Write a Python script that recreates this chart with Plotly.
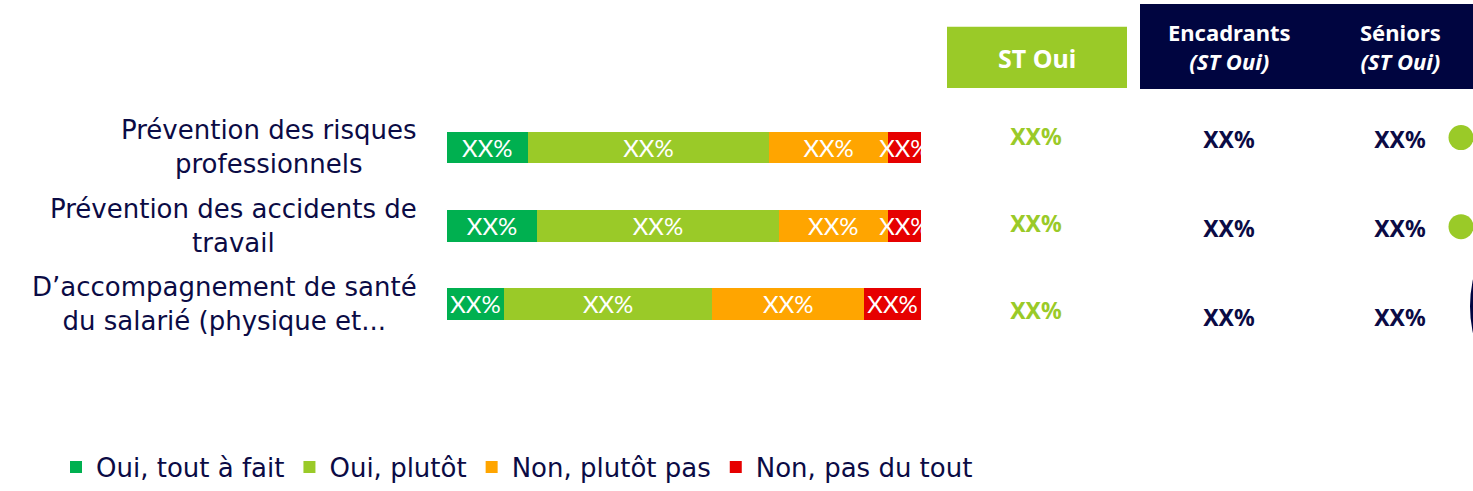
import plotly.graph_objects as go

# ---------------- data ----------------
categories = [
    "Prévention des risques<br>professionnels",
    "Prévention des accidents de<br>travail",
    "D’accompagnement de santé<br>du salarié (physique et...",
]
series_names = ["Oui, tout à fait", "Oui, plutôt", "Non, plutôt pas", "Non, pas du tout"]
oui_tout_a_fait = [17, 19, 12]
oui_plutot = [51, 51, 44]
non_plutot_pas = [25, 23, 32]
non_pas_du_tout = [7, 7, 12]
bar_labels = ["XX%", "XX%", "XX%"]

col_headers = ["ST Oui", "Encadrants<br><i>(ST Oui)</i>", "Séniors<br><i>(ST Oui)</i>"]
st_oui = ["XX%", "XX%", "XX%"]
encadrants = ["XX%", "XX%", "XX%"]
seniors = ["XX%", "XX%", "XX%"]
indicators = ["up", "up", "big"]

# ---------------- style ----------------
W, H = 1473, 491
colors = ["#00B050", "#9ACA28", "#FFA500", "#E60000"]
NAVY = "#0B0B45"
BOX_NAVY = "#000540"
FONT = "DejaVu Sans"
BOLD_FONT = "Noto Sans"
ROW_PX = 90  # pixel height of one table row

def px_x(p):
    return p / W

def px_y(p):
    return 1 - p / H

series_values = [oui_tout_a_fait, oui_plutot, non_plutot_pas, non_pas_du_tout]

fig = go.Figure()
for name, vals, col in zip(series_names, series_values, colors):
    fig.add_trace(go.Bar(
        y=categories, x=vals, name=name, orientation="h",
        marker=dict(color=col, line=dict(width=0)),
        text=bar_labels, textposition="inside", insidetextanchor="middle",
        textfont=dict(color="white", size=24, family="Lato"),
        cliponaxis=True, width=0.405, hoverinfo="skip",
        xaxis="x", yaxis="y",
    ))

# table columns (x positions in the table axis are styling)
col_x = [1036, 1229, 1400]
col_vals = [st_oui, encadrants, seniors]
col_colors = [colors[1], NAVY, NAVY]
col_yaxes = ["y3", "y4", "y4"]
rows = list(range(len(categories)))
for cx, vals, cc, ya in zip(col_x, col_vals, col_colors, col_yaxes):
    fig.add_trace(go.Scatter(
        x=[cx] * len(vals), y=rows, text=vals, mode="text",
        textfont=dict(size=23, color=cc, family=BOLD_FONT, weight="bold"),
        showlegend=False, cliponaxis=False, hoverinfo="skip",
        xaxis="x2", yaxis=ya,
    ))

# significance indicators
dot_rows = [i for i, s in enumerate(indicators) if s == "up"]
big_rows = [i for i, s in enumerate(indicators) if s == "big"]
fig.add_trace(go.Scatter(
    x=[1461] * len(dot_rows), y=dot_rows, mode="markers",
    marker=dict(size=25, color=colors[1], line=dict(width=0)),
    showlegend=False, cliponaxis=False, hoverinfo="skip",
    xaxis="x2", yaxis="y2",
))

# category labels (centered lines, right-anchored block)
annotations = []
for c in categories:
    annotations.append(dict(
        x=px_x(419), xref="paper", y=c, yref="y", xanchor="right", yanchor="middle",
        text=c, align="center", showarrow=False,
        font=dict(size=26, color=NAVY, family=FONT),
    ))

# header boxes
shapes = [
    dict(type="rect", xref="paper", yref="paper", x0=px_x(947), x1=px_x(1127),
         y0=px_y(89), y1=px_y(27), fillcolor=colors[1], line=dict(width=0), layer="below"),
    dict(type="rect", xref="paper", yref="paper", x0=px_x(1140), x1=1.0,
         y0=px_y(90), y1=px_y(4), fillcolor=BOX_NAVY, line=dict(width=0), layer="below"),
]
# large navy indicator, mostly off the right edge
R = 126
for r in big_rows:
    yc = r - 9.5 / ROW_PX
    shapes.append(dict(
        type="circle", xref="x2", yref="y2",
        x0=1470, x1=1470 + 2 * R, y0=yc - R / ROW_PX, y1=yc + R / ROW_PX,
        fillcolor=BOX_NAVY, line=dict(width=0), layer="above",
    ))

annotations.append(dict(
    x=px_x(1037), y=px_y(59), xref="paper", yref="paper", xanchor="center", yanchor="middle",
    text="<b>" + col_headers[0] + "</b>",
    showarrow=False, font=dict(size=25, color="white", family=BOLD_FONT),
))
for hx, h in zip(col_x[1:], col_headers[1:]):
    annotations.append(dict(
        x=px_x(hx), y=px_y(47), xref="paper", yref="paper", xanchor="center", yanchor="middle",
        text="<b>" + h + "</b>",
        showarrow=False, align="center", font=dict(size=22, color="white", family=BOLD_FONT),
    ))

fig.update_layout(
    width=W, height=H,
    margin=dict(l=0, r=0, t=0, b=0),
    paper_bgcolor="white", plot_bgcolor="rgba(0,0,0,0)",
    barmode="stack",
    uniformtext=dict(mode="show", minsize=24),
    font=dict(family=FONT, color=NAVY),
    xaxis=dict(domain=[px_x(447), px_x(921)], range=[0, 100], visible=False, fixedrange=True),
    yaxis=dict(domain=[px_y(346.5), px_y(109.5)], range=[2.5, -0.5], visible=False,
               categoryorder="array", categoryarray=categories),
    xaxis2=dict(domain=[px_x(940), 1.0], range=[940, 1473], visible=False, anchor="y2"),
    yaxis2=dict(domain=[px_y(364), px_y(94)], range=[2.5, -0.5], visible=False, anchor="x2"),
    yaxis3=dict(domain=[px_y(360.5), px_y(97)], range=[2.5, -0.5], visible=False, anchor="x2"),
    yaxis4=dict(domain=[px_y(369), px_y(99)], range=[2.5, -0.5], visible=False, anchor="x2"),
    legend=dict(orientation="h", x=px_x(56), y=px_y(472), xanchor="left", yanchor="middle",
                font=dict(size=26, color=NAVY, family=FONT), itemwidth=30,
                traceorder="normal", bgcolor="rgba(0,0,0,0)"),
    shapes=shapes,
    annotations=annotations,
    showlegend=True,
)

fig.write_html(
    "out.html",
    config={"displayModeBar": False},
    post_script="document.body.style.margin='0';document.body.style.overflow='hidden';",
)
